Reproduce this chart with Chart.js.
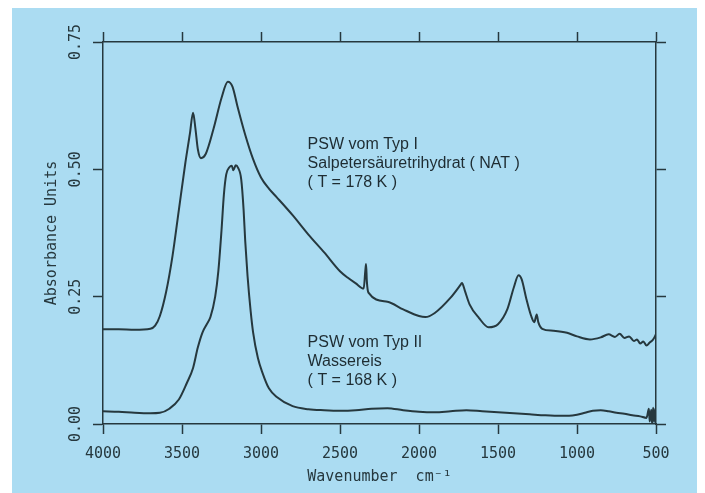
<!DOCTYPE html>
<html>
<head>
<meta charset="utf-8">
<script src="https://cdn.jsdelivr.net/npm/chart.js@4.4.1/dist/chart.umd.min.js"></script>
<style>
  html, body { margin: 0; padding: 0; background: #fff; }
  canvas { display: block; }
</style>
</head>
<body>
<canvas id="chart" width="705" height="493"></canvas>
<script>
// PSW type I (NAT, 178 K) spectrum
const natWn  = [4000, 3900, 3800, 3700, 3670, 3640, 3600, 3560, 3520, 3480, 3450, 3430, 3415, 3400, 3380, 3350, 3300, 3250, 3210, 3180, 3150, 3100, 3050, 3000, 2950, 2900, 2800, 2700, 2600, 2500, 2450, 2400, 2350, 2340, 2335, 2330, 2320, 2200, 2100, 2000, 1960, 1900, 1800, 1740, 1728, 1710, 1680, 1620, 1560, 1500, 1440, 1400, 1370, 1350, 1320, 1290, 1270, 1255, 1245, 1220, 1150, 1063, 1000, 918, 850, 800, 760, 730, 700, 670, 640, 620, 600, 580, 560, 540, 520, 500];
const natAbs = [0.186, 0.186, 0.185, 0.187, 0.193, 0.212, 0.26, 0.33, 0.42, 0.51, 0.57, 0.611, 0.58, 0.54, 0.522, 0.53, 0.58, 0.64, 0.672, 0.662, 0.625, 0.568, 0.52, 0.484, 0.462, 0.445, 0.41, 0.372, 0.337, 0.3, 0.287, 0.276, 0.266, 0.3, 0.314, 0.28, 0.258, 0.24, 0.225, 0.212, 0.21, 0.218, 0.248, 0.272, 0.277, 0.262, 0.235, 0.208, 0.19, 0.196, 0.226, 0.268, 0.292, 0.284, 0.245, 0.212, 0.2, 0.215, 0.2, 0.187, 0.183, 0.179, 0.172, 0.166, 0.17, 0.176, 0.171, 0.177, 0.169, 0.172, 0.163, 0.166, 0.158, 0.162, 0.154, 0.16, 0.165, 0.176];

// PSW type II (water ice, 168 K) spectrum
const iceWn  = [4000, 3900, 3800, 3700, 3640, 3580, 3520, 3470, 3430, 3400, 3370, 3345, 3320, 3290, 3270, 3250, 3235, 3220, 3200, 3185, 3175, 3160, 3145, 3125, 3110, 3100, 3085, 3065, 3050, 3020, 2990, 2950, 2900, 2800, 2700, 2600, 2500, 2400, 2300, 2200, 2100, 2000, 1900, 1800, 1700, 1600, 1500, 1400, 1300, 1200, 1100, 1050, 1000, 950, 900, 850, 800, 750, 700, 650, 600, 560, 545, 540, 530, 525, 518, 512, 505, 500];
const iceAbs = [0.025, 0.024, 0.022, 0.021, 0.022, 0.03, 0.048, 0.08, 0.11, 0.15, 0.18, 0.195, 0.21, 0.25, 0.3, 0.38, 0.45, 0.49, 0.504, 0.507, 0.498, 0.508, 0.503, 0.48, 0.42, 0.36, 0.29, 0.22, 0.18, 0.13, 0.1, 0.07, 0.053, 0.035, 0.029, 0.027, 0.026, 0.027, 0.03, 0.031, 0.027, 0.024, 0.023, 0.025, 0.027, 0.025, 0.023, 0.021, 0.019, 0.017, 0.016, 0.016, 0.018, 0.022, 0.026, 0.027, 0.025, 0.022, 0.02, 0.017, 0.015, 0.012, 0.03, 0.005, 0.028, 0.0, 0.032, 0.004, 0.03, 0.015];

const yTickValues = [0, 0.25, 0.5, 0.75];
const yTickLabels = ['0.00', '0.25', '0.50', '0.75'];

const notes = [
  { wn: 2705, a: 0.548, lines: ['PSW vom Typ I', 'Salpetersäuretrihydrat ( NAT )', '( T = 178 K )'] },
  { wn: 2705, a: 0.16, lines: ['PSW vom Typ II', 'Wassereis', '( T = 168 K )'] }
];

const ink = '#26383e';
const plotFont = 'DejaVu Sans Mono';

const toPoints = (xs, ys) => xs.map((x, i) => ({ x: x, y: ys[i] }));

const paperPlugin = {
  id: 'paper',
  beforeDraw(chart) {
    const ctx = chart.ctx;
    ctx.save();
    ctx.fillStyle = '#ffffff';
    ctx.fillRect(0, 0, chart.width, chart.height);
    ctx.fillStyle = '#abdcf2';
    ctx.fillRect(12, 8, 685, chart.height - 8);
    ctx.restore();
  }
};

const yLabelPlugin = {
  id: 'yLabels',
  afterDraw(chart) {
    const ctx = chart.ctx;
    const y = chart.scales.y;
    ctx.save();
    ctx.fillStyle = ink;
    ctx.font = '15px "' + plotFont + '"';
    ctx.textAlign = 'center';
    ctx.textBaseline = 'middle';
    yTickValues.forEach((v, i) => {
      ctx.save();
      ctx.translate(76, y.getPixelForValue(v));
      ctx.rotate(-Math.PI / 2);
      ctx.fillText(yTickLabels[i], 0, 0);
      ctx.restore();
    });
    ctx.restore();
  }
};

const notePlugin = {
  id: 'notes',
  afterDraw(chart) {
    const ctx = chart.ctx;
    const xs = chart.scales.x, ys = chart.scales.y;
    ctx.save();
    ctx.fillStyle = '#1e2c32';
    ctx.font = '16px "Liberation Sans", Arial, sans-serif';
    ctx.textAlign = 'left';
    ctx.textBaseline = 'middle';
    notes.forEach(n => {
      const px = xs.getPixelForValue(n.wn);
      const py = ys.getPixelForValue(n.a);
      n.lines.forEach((t, i) => ctx.fillText(t, px, py + i * 19));
    });
    ctx.restore();
  }
};

const gridOpts = {
  drawOnChartArea: false,
  drawTicks: true,
  tickLength: 10,
  tickWidth: 1.5,
  tickColor: ink
};
const borderOpts = { display: true, color: ink, width: 1.5 };

new Chart(document.getElementById('chart'), {
  type: 'line',
  data: {
    datasets: [
      {
        label: 'PSW Typ I',
        data: toPoints(natWn, natAbs),
        borderColor: ink,
        borderWidth: 2,
        pointRadius: 0,
        cubicInterpolationMode: 'monotone',
        fill: false
      },
      {
        label: 'PSW Typ II',
        data: toPoints(iceWn, iceAbs),
        borderColor: ink,
        borderWidth: 2,
        pointRadius: 0,
        cubicInterpolationMode: 'monotone',
        fill: false
      }
    ]
  },
  options: {
    responsive: false,
    animation: false,
    devicePixelRatio: 1,
    layout: { padding: 0 },
    plugins: {
      legend: { display: false },
      tooltip: { enabled: false }
    },
    scales: {
      x: {
        type: 'linear',
        position: 'bottom',
        reverse: true,
        min: 500,
        max: 4000,
        afterFit: (s) => { s.height = 69; },
        ticks: {
          stepSize: 500,
          color: ink,
          padding: 11,
          maxRotation: 0,
          font: { family: plotFont, size: 15 },
          callback: (v) => String(v)
        },
        grid: gridOpts,
        border: borderOpts,
        title: {
          display: true,
          text: 'Wavenumber  cm⁻¹',
          color: ink,
          font: { family: plotFont, size: 15 },
          padding: { top: 0, bottom: 7 }
        }
      },
      x2: {
        type: 'linear',
        position: 'top',
        reverse: true,
        min: 500,
        max: 4000,
        afterFit: (s) => { s.height = 42; },
        ticks: { stepSize: 500, display: false },
        grid: gridOpts,
        border: borderOpts
      },
      y: {
        type: 'linear',
        position: 'left',
        min: 0,
        max: 0.75,
        afterFit: (s) => { s.width = 103; },
        ticks: { stepSize: 0.25, display: false },
        grid: gridOpts,
        border: borderOpts,
        title: {
          display: true,
          text: 'Absorbance Units',
          color: ink,
          font: { family: plotFont, size: 15 },
          padding: { top: 43, bottom: 0 }
        }
      },
      y2: {
        type: 'linear',
        position: 'right',
        min: 0,
        max: 0.75,
        afterFit: (s) => { s.width = 49; },
        ticks: { stepSize: 0.25, display: false },
        grid: gridOpts,
        border: borderOpts
      }
    }
  },
  plugins: [paperPlugin, yLabelPlugin, notePlugin]
});
</script>
</body>
</html>
